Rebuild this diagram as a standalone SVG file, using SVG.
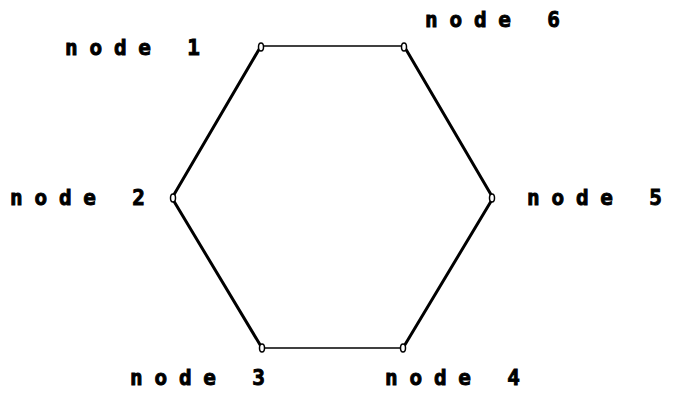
<svg xmlns="http://www.w3.org/2000/svg" width="678" height="406" viewBox="0 0 678 406">
<style>
.lbl{font-family:"DejaVu Sans Mono","Liberation Mono",monospace;font-weight:bold;font-size:21px;letter-spacing:11.8px;fill:#000;stroke:#000;stroke-width:0.9}
.thick{stroke:#000;stroke-width:3;fill:none;stroke-linecap:round}
.thin{stroke:#000;stroke-width:1.5;fill:none}
.pt{fill:#fff;stroke:#000;stroke-width:1.5}
</style>
<rect width="678" height="406" fill="#fff"/>
<g id="connectors">
<line class="thin" x1="261" y1="46" x2="404" y2="46"/>
<line class="thick" x1="261" y1="46" x2="172" y2="198"/>
<line class="thick" x1="172" y1="198" x2="262" y2="348"/>
<line class="thin" x1="262" y1="348" x2="403" y2="348"/>
<line class="thick" x1="403" y1="348" x2="493" y2="198"/>
<line class="thick" x1="493" y1="198" x2="404" y2="46"/>
</g>
<g id="node1"><ellipse class="pt" cx="261" cy="47" rx="2.5" ry="4"/><text class="lbl" x="65" y="55">node 1</text></g>
<g id="node2"><ellipse class="pt" cx="173" cy="198" rx="2.5" ry="4"/><text class="lbl" x="10" y="205">node 2</text></g>
<g id="node3"><ellipse class="pt" cx="262" cy="348" rx="2.5" ry="4"/><text class="lbl" x="130" y="385">node 3</text></g>
<g id="node4"><ellipse class="pt" cx="403" cy="348" rx="2.5" ry="4"/><text class="lbl" x="385" y="385">node 4</text></g>
<g id="node5"><ellipse class="pt" cx="492" cy="198" rx="2.5" ry="4"/><text class="lbl" x="527" y="205">node 5</text></g>
<g id="node6"><ellipse class="pt" cx="404" cy="47" rx="2.5" ry="4"/><text class="lbl" x="425" y="27">node 6</text></g>
</svg>
